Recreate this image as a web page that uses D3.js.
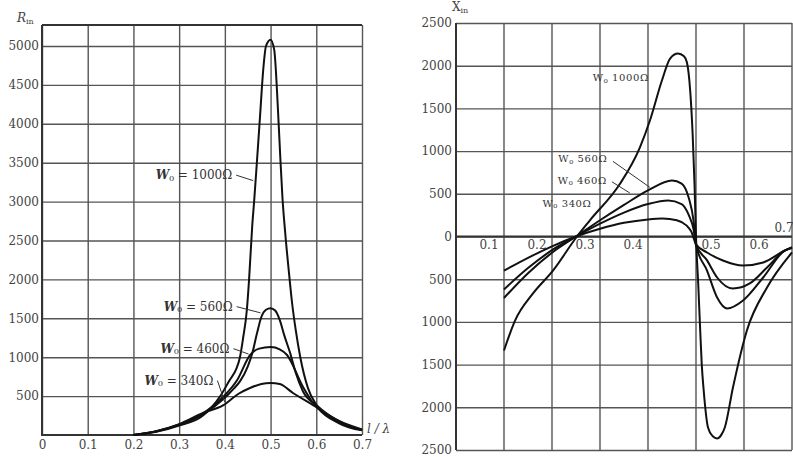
<!DOCTYPE html>
<html>
<head>
<meta charset="utf-8">
<script src="https://cdn.jsdelivr.net/npm/d3@7"></script>
<style>
body { margin: 0; background: #fff; }
text { font-family: "DejaVu Serif", "Liberation Serif", serif; fill: #444; }
.grid line { stroke: #555; stroke-width: 1.4; }
.grid path { display: none; }
.frame { stroke: #333; stroke-width: 2; fill: none; }
.curve { fill: none; stroke: #111; stroke-width: 2; }
.leader { stroke: #333; stroke-width: 1; }
</style>
</head>
<body>
<svg width="793" height="457"></svg>
<script>
// tick values
const tickT = [0, 0.1, 0.2, 0.3, 0.4, 0.5, 0.6, 0.7];
const rTicks = [500, 1000, 1500, 2000, 2500, 3000, 3500, 4000, 4500, 5000];
const xTicks = [-2500, -2000, -1500, -1000, -500, 0, 500, 1000, 1500, 2000, 2500];

// characteristic impedances (ohm)
const impedances = ["1000", "560", "460", "340"];

// input resistance R_in vs l/lambda
const r1000 = [[0.2,0],[0.25,40],[0.3,120],[0.35,240],[0.39,500],[0.41,700],[0.425,850],[0.433,1000],[0.44,1250],[0.448,1600],[0.453,2000],[0.46,2700],[0.464,3000],[0.47,3500],[0.477,4100],[0.484,4700],[0.49,5000],[0.5,5080],[0.508,4950],[0.516,4200],[0.521,3600],[0.526,3050],[0.532,2600],[0.54,2100],[0.547,1700],[0.555,1350],[0.565,1000],[0.582,600],[0.6,390],[0.65,150],[0.7,60]];
const r560 = [[0.2,0],[0.25,45],[0.3,130],[0.35,260],[0.4,480],[0.42,600],[0.433,690],[0.45,880],[0.46,1050],[0.47,1300],[0.48,1520],[0.49,1610],[0.5,1630],[0.51,1600],[0.52,1480],[0.53,1280],[0.543,1050],[0.555,800],[0.571,560],[0.6,385],[0.65,170],[0.7,65]];
const r460 = [[0.2,0],[0.25,50],[0.3,135],[0.35,270],[0.396,488],[0.427,707],[0.455,1028],[0.475,1110],[0.5,1130],[0.52,1100],[0.536,1028],[0.571,617],[0.593,411],[0.65,175],[0.7,65]];
const r340 = [[0.2,0],[0.25,50],[0.3,140],[0.352,283],[0.396,380],[0.43,530],[0.455,604],[0.48,655],[0.5,668],[0.52,655],[0.549,540],[0.593,385],[0.65,180],[0.7,70]];

// input reactance X_in vs l/lambda
const x1000 = [[0.1,-1335],[0.123,-985],[0.16,-670],[0.202,-400],[0.252,0],[0.279,190],[0.342,620],[0.383,1042],[0.404,1358],[0.429,1827],[0.446,2084],[0.4625,2143],[0.475,2110],[0.481,2040],[0.488,1700],[0.493,1200],[0.497,600],[0.5,0],[0.505,-600],[0.508,-1000],[0.512,-1500],[0.516,-1800],[0.525,-2236],[0.535,-2340],[0.544,-2365],[0.553,-2320],[0.56,-2236],[0.577,-1768],[0.606,-1100],[0.648,-597],[0.7,-187]];
const x560 = [[0.1,-720],[0.15,-430],[0.2,-190],[0.25,0],[0.3,190],[0.35,370],[0.4,540],[0.45,656],[0.47,620],[0.485,450],[0.495,180],[0.5,-100],[0.523,-400],[0.544,-714],[0.565,-843],[0.598,-750],[0.64,-480],[0.685,-164],[0.7,-135]];
const x460 = [[0.1,-620],[0.15,-370],[0.2,-160],[0.25,0],[0.3,150],[0.35,280],[0.4,380],[0.442,422],[0.47,380],[0.485,250],[0.495,80],[0.5,-95],[0.523,-280],[0.544,-480],[0.577,-609],[0.612,-550],[0.648,-363],[0.685,-164],[0.7,-130]];
const x340 = [[0.1,-400],[0.15,-250],[0.2,-115],[0.25,0],[0.3,90],[0.35,160],[0.4,200],[0.43,210],[0.46,190],[0.48,130],[0.49,60],[0.5,-90],[0.523,-187],[0.556,-281],[0.598,-340],[0.64,-304],[0.685,-164],[0.7,-125]];

const svg = d3.select("svg");

// ---------- left panel: R_in ----------
const xR = d3.scaleLinear().domain([0, 0.7]).range([42, 362]);
const yR = d3.scaleLinear().domain([0, 5270]).range([435, 25]);

const left = svg.append("g");

left.append("g")
    .attr("class", "grid")
    .attr("transform", `translate(0,${yR(0)})`)
    .call(d3.axisBottom(xR).tickValues(tickT).tickSize(-(yR(0) - yR(5270))).tickPadding(5)
        .tickFormat(d => d === 0 ? "0" : d3.format(".1f")(d)))
    .selectAll("text").style("font-size", "12px");

left.append("g")
    .attr("class", "grid")
    .attr("transform", `translate(${xR(0)},0)`)
    .call(d3.axisLeft(yR).tickValues(rTicks).tickSize(-(xR(0.7) - xR(0))).tickPadding(3)
        .tickFormat(d3.format("d")))
    .selectAll("text").style("font-size", "12px");

left.append("path")
    .attr("class", "frame")
    .attr("d", `M${xR(0)},${yR(5270)}V${yR(0)}H${xR(0.7)}M${xR(0)},${yR(5270)}H${xR(0.7)}`);

const lineR = d3.line()
    .x(d => xR(d[0]))
    .y(d => yR(d[1]))
    .curve(d3.curveMonotoneX);

left.selectAll(".curve")
    .data([r1000, r560, r460, r340])
    .enter()
    .append("path")
    .attr("class", "curve")
    .attr("d", lineR);

// curve labels, anchored in data coordinates
const leftLabelAt = [[0.416, 3340], [0.417, 1650], [0.41, 1110], [0.375, 700]];
const leftLeaderTo = [[0.462, 3270], [0.478, 1570], [0.452, 1040], [0.4, 420]];
leftLabelAt.forEach((p, i) => {
    const t = left.append("text")
        .attr("x", xR(p[0]))
        .attr("y", yR(p[1]))
        .attr("dy", "0.35em")
        .attr("text-anchor", "end")
        .style("font-size", "12px")
        .style("fill", "#333");
    t.append("tspan").text("W").style("font-style", "italic").style("font-weight", "bold");
    t.append("tspan").text("₀").attr("dy", "0.1em");
    t.append("tspan").text(" = " + impedances[i] + "Ω").attr("dy", "-0.1em");
    left.append("line")
        .attr("class", "leader")
        .attr("x1", xR(p[0]) + 4).attr("y1", yR(p[1]))
        .attr("x2", xR(leftLeaderTo[i][0])).attr("y2", yR(leftLeaderTo[i][1]));
});

// axis titles
const rTitle = left.append("text").attr("x", 17).attr("y", 22).style("font-size", "12px");
rTitle.append("tspan").text("R").style("font-style", "italic");
rTitle.append("tspan").text("in").attr("dy", "0.3em").style("font-size", "8px");

left.append("text")
    .attr("x", xR(0.7) + 5)
    .attr("y", yR(0) - 2)
    .style("font-size", "12px")
    .style("font-style", "italic")
    .text("l / λ");

// ---------- right panel: X_in ----------
const xX = d3.scaleLinear().domain([0, 0.7]).range([456, 792]);
const yX = d3.scaleLinear().domain([-2500, 2500]).range([450, 23]);

const right = svg.append("g");

right.append("g")
    .attr("class", "grid")
    .attr("transform", `translate(${xX(0)},0)`)
    .call(d3.axisLeft(yX).tickValues(xTicks).tickSize(-(xX(0.7) - xX(0))).tickPadding(4)
        .tickFormat(d => Math.abs(d)))
    .selectAll("text").style("font-size", "12px");

right.selectAll(".vgrid")
    .data(tickT.slice(1))
    .enter()
    .append("line")
    .attr("class", "vgrid")
    .attr("x1", d => xX(d)).attr("x2", d => xX(d))
    .attr("y1", yX(2500)).attr("y2", yX(-2500))
    .style("stroke", "#555")
    .style("stroke-width", 1.4);

right.append("path")
    .attr("class", "frame")
    .attr("d", `M${xX(0)},${yX(2500)}V${yX(-2500)}M${xX(0)},${yX(0)}H${xX(0.7)}`);

// x tick labels sit beside the grid lines, away from the curves
right.selectAll(".tlab")
    .data(tickT.slice(1))
    .enter()
    .append("text")
    .attr("class", "tlab")
    .attr("x", d => xX(d) + (d === 0.7 ? -8 : d < 0.45 ? -15 : 15))
    .attr("y", d => yX(0) + (d === 0.7 ? -9 : 8))
    .attr("dy", "0.35em")
    .attr("text-anchor", "middle")
    .style("font-size", "12px")
    .text(d => d3.format(".1f")(d));

const lineX = d3.line()
    .x(d => xX(d[0]))
    .y(d => yX(d[1]))
    .curve(d3.curveMonotoneX);

right.selectAll(".curve")
    .data([x1000, x560, x460, x340])
    .enter()
    .append("path")
    .attr("class", "curve")
    .attr("d", lineX);

const rightLabelAt = [[0.285, 1860], [0.213, 910], [0.212, 660], [0.18, 390]];
rightLabelAt.forEach((p, i) => {
    const t = right.append("text")
        .attr("x", xX(p[0]))
        .attr("y", yX(p[1]))
        .attr("dy", "0.35em")
        .style("font-size", "10px")
        .style("letter-spacing", "0.6px")
        .style("fill", "#333");
    t.append("tspan").text("W");
    t.append("tspan").text("₀").attr("dy", "0.15em");
    t.append("tspan").text(" " + impedances[i] + "Ω").attr("dy", "-0.15em");
});
right.append("line").attr("class", "leader")
    .attr("x1", xX(0.327)).attr("y1", yX(880)).attr("x2", xX(0.404)).attr("y2", yX(575));
right.append("line").attr("class", "leader")
    .attr("x1", xX(0.325)).attr("y1", yX(640)).attr("x2", xX(0.362)).attr("y2", yX(510));

const xTitle = right.append("text").attr("x", 452).attr("y", 11).style("font-size", "12px");
xTitle.append("tspan").text("X");
xTitle.append("tspan").text("in").attr("dy", "0.3em").style("font-size", "8px");
</script>
</body>
</html>
